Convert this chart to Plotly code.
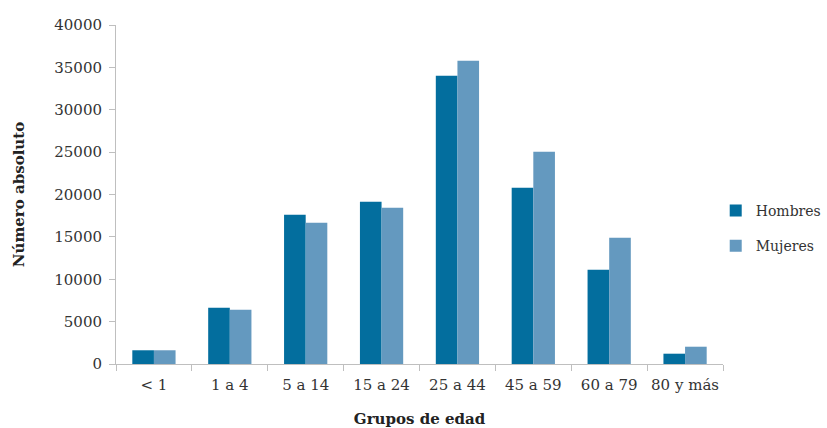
import plotly.graph_objects as go

categories = ["< 1", "1 a 4", "5 a 14", "15 a 24", "25 a 44", "45 a 59", "60 a 79", "80 y más"]
hombres = [1620, 6640, 17620, 19150, 34020, 20800, 11130, 1215]
mujeres = [1620, 6400, 16670, 18440, 35790, 25050, 14900, 2040]
y_ticks = [0, 5000, 10000, 15000, 20000, 25000, 30000, 35000, 40000]

SERIF = "DejaVu Serif"
AXIS_GRAY = "#BFBFBF"
TEXT = "#333333"

fig = go.Figure()
fig.add_trace(go.Bar(name="Hombres", x=categories, y=hombres, marker_color="#036E9E",
                     marker_line_width=0, legendgroup="h"))
fig.add_trace(go.Bar(name="Mujeres", x=categories, y=mujeres, marker_color="#6499BF",
                     marker_line_width=0, legendgroup="m"))

fig.update_layout(
    width=827, height=428,
    margin=dict(l=116, r=104, t=25, b=64, autoexpand=False),
    paper_bgcolor="white", plot_bgcolor="white",
    barmode="group", bargap=0.43, bargroupgap=0,
    font=dict(family=SERIF, size=15, color=TEXT),
    showlegend=True,
    legend=dict(x=0.988, y=0.40, xanchor="left", yanchor="middle",
                font=dict(family=SERIF, size=14, color=TEXT),
                itemwidth=30, tracegroupgap=14, bgcolor="rgba(0,0,0,0)"),
    xaxis=dict(
        showline=True, linecolor=AXIS_GRAY, linewidth=1,
        ticks="outside", tickson="boundaries", ticklen=6, tickcolor=AXIS_GRAY,
        tickangle=0, automargin=False, ticklabelstandoff=7,
        tickfont=dict(family=SERIF, size=15, color=TEXT),
        title=dict(text="<b>Grupos de edad</b>", standoff=21,
                   font=dict(family=SERIF, size=15, color="#222222")),
    ),
    yaxis=dict(
        range=[0, 40000], tickvals=y_ticks, ticktext=[str(v) for v in y_ticks],
        showgrid=False, zeroline=False, automargin=False,
        showline=True, linecolor=AXIS_GRAY, linewidth=1,
        ticks="outside", ticklen=6, tickcolor=AXIS_GRAY, ticklabelstandoff=4,
        tickfont=dict(family=SERIF, size=15, color=TEXT),
        title=dict(text="<b>Número absoluto</b>", standoff=26,
                   font=dict(family=SERIF, size=15, color="#222222")),
    ),
)

fig.write_html("out.html")
